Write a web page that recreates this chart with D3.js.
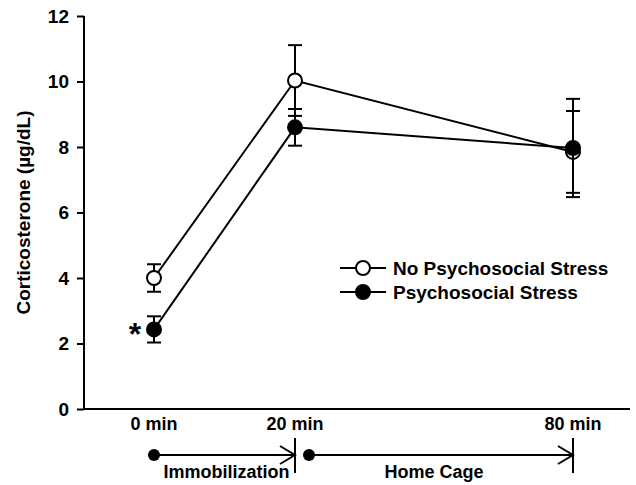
<!DOCTYPE html>
<html><head><meta charset="utf-8">
<script src="https://cdn.jsdelivr.net/npm/d3@7"></script>
<style>body{margin:0;background:#fff}svg{display:block;font-family:"Liberation Sans",Arial,sans-serif;font-weight:bold}</style>
</head><body><svg id="c" width="636" height="485"></svg>
<script>
const times = [0, 20, 80];
const timeLabels = ["0 min", "20 min", "80 min"];
const noStressMean = [4.0, 10.03, 7.85];
const noStressErr = [0.42, 1.08, 1.25];
const stressMean = [2.43, 8.6, 7.97];
const stressErr = [0.4, 0.56, 1.5];
const seriesNames = ["No Psychosocial Stress", "Psychosocial Stress"];
const yTicks = [0, 2, 4, 6, 8, 10, 12];
const phases = [{label: "Immobilization", from: 0, to: 20}, {label: "Home Cage", from: 20, to: 80}];

const svg = d3.select("#c");
const x = d3.scaleLinear().domain([0, 20, 80]).range([154, 295, 573]);
const y = d3.scaleLinear().domain([0, 12]).range([409, 16]);
const axL = 84, axR = 630;

// axes
svg.append("line").attr("x1", axL).attr("x2", axL).attr("y1", y(12)).attr("y2", y(0)).attr("stroke", "#000").attr("stroke-width", 2);
svg.append("line").attr("x1", axL - 1).attr("x2", axR).attr("y1", y(0)).attr("y2", y(0)).attr("stroke", "#000").attr("stroke-width", 2);
const yAxis = d3.axisLeft(y).tickValues(yTicks).tickSize(7).tickPadding(8);
const ga = svg.append("g").attr("transform", `translate(${axL},0)`).call(yAxis);
ga.select(".domain").remove();
ga.selectAll(".tick line").attr("stroke", "#000").attr("stroke-width", 2);
ga.selectAll(".tick text").attr("font-size", 19).attr("font-family", "Liberation Sans, Arial").attr("font-weight", "bold").attr("fill", "#000");

svg.append("text").attr("transform", `translate(30,${y(6)}) rotate(-90)`).attr("text-anchor", "middle")
  .attr("font-size", 19).text("Corticosterone (µg/dL)");

// x labels
svg.selectAll(".xl").data(times).enter().append("text").attr("class", "xl")
  .attr("x", d => x(d)).attr("y", 430).attr("text-anchor", "middle").attr("font-size", 18)
  .text((d, i) => timeLabels[i]);

// series
const series = [
  {name: seriesNames[0], mean: noStressMean, err: noStressErr, fill: "#fff"},
  {name: seriesNames[1], mean: stressMean, err: stressErr, fill: "#000"}
];
const line = d3.line().x(d => x(d.t)).y(d => y(d.v));
series.forEach(s => {
  const pts = times.map((t, i) => ({t, v: s.mean[i], e: s.err[i]}));
  const g = svg.append("g");
  g.selectAll(".eb").data(pts).enter().append("line")
    .attr("x1", d => x(d.t)).attr("x2", d => x(d.t)).attr("y1", d => y(d.v + d.e)).attr("y2", d => y(d.v - d.e))
    .attr("stroke", "#000").attr("stroke-width", 2);
  g.selectAll(".cap").data(pts.flatMap(d => [{t: d.t, v: d.v + d.e}, {t: d.t, v: d.v - d.e}])).enter().append("line")
    .attr("x1", d => x(d.t) - 7).attr("x2", d => x(d.t) + 7).attr("y1", d => y(d.v)).attr("y2", d => y(d.v))
    .attr("stroke", "#000").attr("stroke-width", 2);
  g.append("path").attr("d", line(pts)).attr("fill", "none").attr("stroke", "#000").attr("stroke-width", 2);
  s.g = g; s.pts = pts;
});
series.forEach(s => {
  s.g.selectAll("circle").data(s.pts).enter().append("circle")
    .attr("cx", d => x(d.t)).attr("cy", d => y(d.v)).attr("r", 7)
    .attr("fill", s.fill).attr("stroke", "#000").attr("stroke-width", 2);
});

// asterisk
svg.append("text").attr("x", x(0) - 19).attr("y", y(stressMean[0]) + 16).attr("text-anchor", "middle")
  .attr("font-size", 32).text("*");

// legend
series.forEach((s, i) => {
  const ly = 268 + i * 24;
  svg.append("line").attr("x1", 340).attr("x2", 386).attr("y1", ly).attr("y2", ly).attr("stroke", "#000").attr("stroke-width", 2);
  svg.append("circle").attr("cx", 363).attr("cy", ly).attr("r", 7).attr("fill", s.fill).attr("stroke", "#000").attr("stroke-width", 2);
  svg.append("text").attr("x", 393).attr("y", ly + 7).attr("font-size", 19).text(s.name);
});

// timeline
const ty = 455;
phases.forEach((p, i) => {
  const x0 = x(p.from) + (i === 0 ? 0 : 14);
  const x1 = x(p.to);
  svg.append("circle").attr("cx", x0).attr("cy", ty).attr("r", 6).attr("fill", "#000");
  svg.append("line").attr("x1", x0).attr("x2", x1).attr("y1", ty).attr("y2", ty).attr("stroke", "#000").attr("stroke-width", 2);
  svg.append("path").attr("d", `M${x1 - 15},${ty - 9}L${x1},${ty}L${x1 - 15},${ty + 9}`).attr("fill", "none").attr("stroke", "#000").attr("stroke-width", 2);
  svg.append("line").attr("x1", x1).attr("x2", x1).attr("y1", ty - 17).attr("y2", ty + 18).attr("stroke", "#000").attr("stroke-width", 2);
  svg.append("text").attr("x", (x(p.from) + x1) / 2 + (i === 0 ? 2 : 0)).attr("y", 478).attr("text-anchor", "middle").attr("font-size", 18).text(p.label);
});
</script></body></html>
